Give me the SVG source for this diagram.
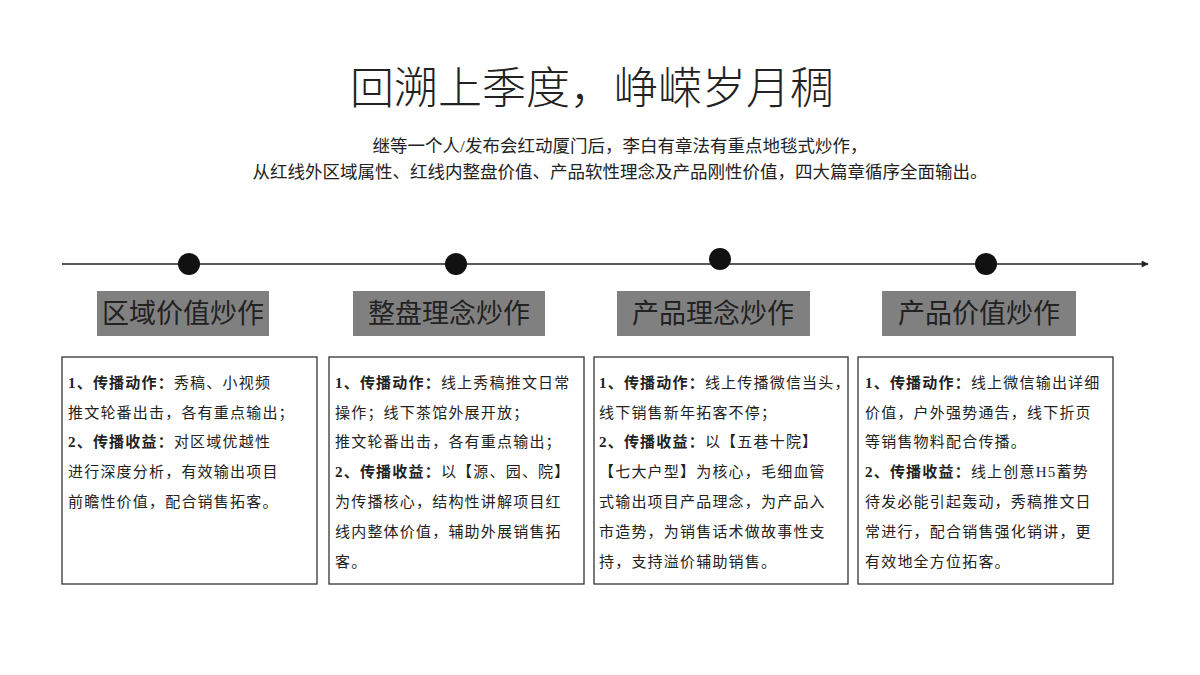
<svg xmlns="http://www.w3.org/2000/svg" width="1200" height="675" viewBox="0 0 1200 675">
<style>
text{font-family:"Liberation Serif","Noto Sans CJK SC",serif;fill:#222}
.t{font-size:44px;text-anchor:middle;font-weight:300}
.s{font-size:17.5px;text-anchor:middle}
.lb rect{fill:#808080}
.lb text{font-family:"Noto Sans CJK SC",sans-serif;font-size:27px;text-anchor:middle;fill:#222}
.bx{fill:#fff;stroke:#333;stroke-width:1.3}
.c{font-size:15px;letter-spacing:1.2px}
.b{font-weight:bold}
.dot{fill:#111}
</style>
<defs><marker id="ar" viewBox="0 0 10 10" refX="9" refY="5" markerWidth="9" markerHeight="7" orient="auto" markerUnits="userSpaceOnUse"><path d="M0,0L10,5L0,10z" fill="#222"/></marker></defs>
<rect width="1200" height="675" fill="#fff"/>
<text class="t" x="592" y="104">回溯上季度，峥嵘岁月稠</text>
<text class="s" x="620" y="152">继等一个人/发布会红动厦门后，李白有章法有重点地毯式炒作，</text>
<text class="s" x="620" y="178">从红线外区域属性、红线内整盘价值、产品软性理念及产品刚性价值，四大篇章循序全面输出。</text>
<g id="connectors"><line x1="62" y1="264" x2="1148" y2="264" stroke="#222" stroke-width="1.3" marker-end="url(#ar)"/></g>
<g id="n1"><circle class="dot" cx="189" cy="264" r="11"/><g class="lb"><rect x="97" y="291" width="172" height="45"/><text x="183" y="323">区域价值炒作</text></g>
<rect class="bx" x="62" y="357" width="255" height="227"/>
<text class="c"><tspan x="68" y="388"><tspan class="b">1、传播动作：</tspan>秀稿、小视频</tspan><tspan x="68" y="418">推文轮番出击，各有重点输出；</tspan><tspan x="68" y="447"><tspan class="b">2、传播收益：</tspan>对区域优越性</tspan><tspan x="68" y="477">进行深度分析，有效输出项目</tspan><tspan x="68" y="507">前瞻性价值，配合销售拓客。</tspan></text></g>
<g id="n2"><circle class="dot" cx="456" cy="264" r="11"/><g class="lb"><rect x="353" y="291" width="192" height="45"/><text x="449" y="323">整盘理念炒作</text></g>
<rect class="bx" x="329" y="357" width="255" height="227"/>
<text class="c"><tspan x="335" y="388"><tspan class="b">1、传播动作：</tspan>线上秀稿推文日常</tspan><tspan x="335" y="418">操作；线下茶馆外展开放；</tspan><tspan x="335" y="447">推文轮番出击，各有重点输出；</tspan><tspan x="335" y="477"><tspan class="b">2、传播收益：</tspan>以【源、园、院】</tspan><tspan x="335" y="507">为传播核心，结构性讲解项目红</tspan><tspan x="335" y="537">线内整体价值，辅助外展销售拓</tspan><tspan x="335" y="567">客。</tspan></text></g>
<g id="n3"><circle class="dot" cx="720" cy="259" r="11"/><g class="lb"><rect x="617" y="291" width="193" height="45"/><text x="713" y="323">产品理念炒作</text></g>
<rect class="bx" x="594" y="357" width="254" height="227"/>
<text class="c"><tspan x="599" y="388"><tspan class="b">1、传播动作：</tspan>线上传播微信当头，</tspan><tspan x="599" y="418">线下销售新年拓客不停；</tspan><tspan x="599" y="447"><tspan class="b">2、传播收益：</tspan>以【五巷十院】</tspan><tspan x="599" y="477">【七大户型】为核心，毛细血管</tspan><tspan x="599" y="507">式输出项目产品理念，为产品入</tspan><tspan x="599" y="537">市造势，为销售话术做故事性支</tspan><tspan x="599" y="567">持，支持溢价辅助销售。</tspan></text></g>
<g id="n4"><circle class="dot" cx="986" cy="264" r="11"/><g class="lb"><rect x="882" y="291" width="194" height="45"/><text x="979" y="323">产品价值炒作</text></g>
<rect class="bx" x="858" y="357" width="255" height="227"/>
<text class="c"><tspan x="865" y="388"><tspan class="b">1、传播动作：</tspan>线上微信输出详细</tspan><tspan x="865" y="418">价值，户外强势通告，线下折页</tspan><tspan x="865" y="447">等销售物料配合传播。</tspan><tspan x="865" y="477"><tspan class="b">2、传播收益：</tspan>线上创意H5蓄势</tspan><tspan x="865" y="507">待发必能引起轰动，秀稿推文日</tspan><tspan x="865" y="537">常进行，配合销售强化销讲，更</tspan><tspan x="865" y="567">有效地全方位拓客。</tspan></text></g>
</svg>
